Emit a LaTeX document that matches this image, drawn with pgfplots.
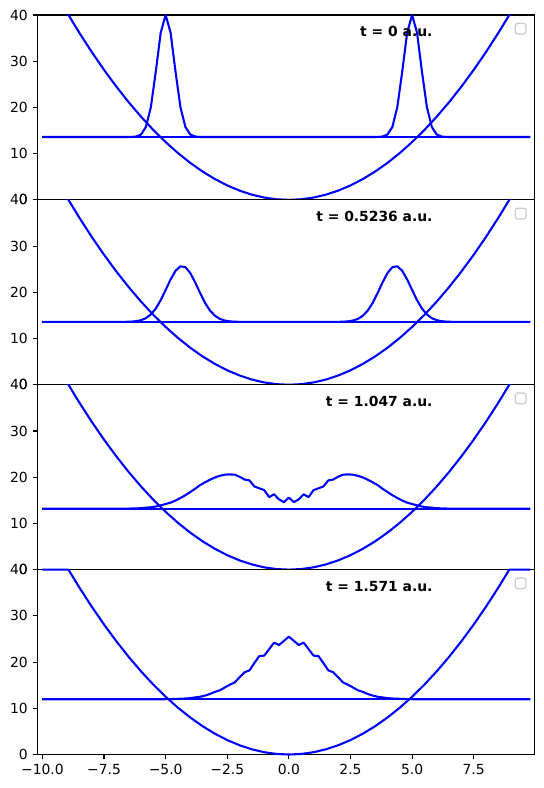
\documentclass[border=0pt]{standalone}
\usepackage{fontspec}
\setmainfont{DejaVu Sans}
\usepackage{pgfplots}
\usepackage{pgfplotstable}
\pgfplotsset{compat=1.18}

\pgfplotstableread{
x y
-10 50
-9.5 45.125
-9 40.5
-8.5 36.125
-8 32
-7.5 28.125
-7 24.5
-6.5 21.125
-6 18
-5.5 15.125
-5 12.5
-4.5 10.125
-4 8
-3.5 6.125
-3 4.5
-2.5 3.125
-2 2
-1.5 1.125
-1 0.5
-0.5 0.125
0 0
0.5 0.125
1 0.5
1.5 1.125
2 2
2.5 3.125
3 4.5
3.5 6.125
4 8
4.5 10.125
5 12.5
5.5 15.125
6 18
6.5 21.125
7 24.5
7.5 28.125
8 32
8.5 36.125
9 40.5
9.5 45.125
9.8 48.02
}\potential

\pgfplotstableread{
x y
-10 40
-8.944 40
-8.5 36.125
-8 32
-7.5 28.125
-7 24.5
-6.5 21.125
-6 18
-5.5 15.125
-5 12.5
-4.5 10.125
-4 8
-3.5 6.125
-3 4.5
-2.5 3.125
-2 2
-1.5 1.125
-1 0.5
-0.5 0.125
0 0
0.5 0.125
1 0.5
1.5 1.125
2 2
2.5 3.125
3 4.5
3.5 6.125
4 8
4.5 10.125
5 12.5
5.5 15.125
6 18
6.5 21.125
7 24.5
7.5 28.125
8 32
8.5 36.125
8.944 40
9.8 40
}\potentialcap

\pgfplotstableread{
x y
-10 13.6
-6.6 13.6
-6.4 13.61
-6.2 13.70
-6.0 14.13
-5.8 15.78
-5.6 20.08
-5.4 27.75
-5.2 36.19
-5.0 40.0
-4.8 36.19
-4.6 27.75
-4.4 20.08
-4.2 15.78
-4.0 14.13
-3.8 13.70
-3.6 13.61
-3.4 13.6
3.4 13.6
3.6 13.61
3.8 13.70
4.0 14.13
4.2 15.78
4.4 20.08
4.6 27.75
4.8 36.19
5.0 40.0
5.2 36.19
5.4 27.75
5.6 20.08
5.8 15.78
6.0 14.13
6.2 13.70
6.4 13.61
6.6 13.6
9.8 13.6
}\densA

\pgfplotstableread{
x y
-10 13.6
-7.0 13.6
-6.8 13.61
-6.6 13.62
-6.4 13.66
-6.2 13.75
-6.0 13.97
-5.8 14.41
-5.6 15.21
-5.4 16.49
-5.2 18.30
-5.0 20.51
-4.8 22.78
-4.6 24.65
-4.4 25.63
-4.2 25.45
-4.0 24.16
-3.8 22.12
-3.6 19.82
-3.4 17.70
-3.2 16.05
-3.0 14.93
-2.8 14.25
-2.6 13.89
-2.4 13.72
-2.2 13.64
-2.0 13.61
-1.8 13.6
1.8 13.6
2.0 13.61
2.2 13.64
2.4 13.72
2.6 13.89
2.8 14.25
3.0 14.93
3.2 16.05
3.4 17.70
3.6 19.82
3.8 22.12
4.0 24.16
4.2 25.45
4.4 25.63
4.6 24.65
4.8 22.78
5.0 20.51
5.2 18.30
5.4 16.49
5.6 15.21
5.8 14.41
6.0 13.97
6.2 13.75
6.4 13.66
6.6 13.62
6.8 13.61
7.0 13.6
9.8 13.6
}\densB

\pgfplotstableread{
x y
-10 13.2
-6.6 13.2
-6.4 13.22
-6.2 13.25
-6.0 13.3
-5.8 13.4
-5.6 13.5
-5.4 13.65
-5.2 13.9
-5.0 14.2
-4.8 14.5
-4.6 14.95
-4.4 15.5
-4.2 16.1
-4.0 16.8
-3.8 17.5
-3.6 18.3
-3.4 18.9
-3.2 19.45
-3.0 19.95
-2.8 20.3
-2.6 20.55
-2.4 20.6
-2.2 20.55
-2.0 20.1
-1.8 19.5
-1.6 19.3
-1.4 18.0
-1.2 17.6
-1.0 17.2
-0.8 15.7
-0.6 16.3
-0.4 15.2
-0.2 14.6
0 15.6
0.2 14.6
0.4 15.2
0.6 16.3
0.8 15.7
1.0 17.2
1.2 17.6
1.4 18.0
1.6 19.3
1.8 19.5
2.0 20.1
2.2 20.55
2.4 20.6
2.6 20.55
2.8 20.3
3.0 19.95
3.2 19.45
3.4 18.9
3.6 18.3
3.8 17.5
4.0 16.8
4.2 16.1
4.4 15.5
4.6 14.95
4.8 14.5
5.0 14.2
5.2 13.9
5.4 13.65
5.6 13.5
5.8 13.4
6.0 13.3
6.2 13.25
6.4 13.22
6.6 13.2
9.8 13.2
}\densC

\pgfplotstableread{
x y
-10 11.95
-5.2 11.95
-5.0 11.97
-4.8 12.0
-4.6 12.03
-4.4 12.07
-4.2 12.12
-4.0 12.2
-3.8 12.35
-3.6 12.5
-3.4 12.75
-3.2 13.1
-3.0 13.55
-2.8 13.9
-2.6 14.5
-2.4 15.1
-2.2 15.6
-2.0 16.7
-1.8 17.8
-1.6 18.2
-1.4 19.8
-1.2 21.3
-1.0 21.4
-0.8 22.8
-0.6 24.2
-0.4 23.7
-0.2 24.6
0 25.5
0.2 24.6
0.4 23.7
0.6 24.2
0.8 22.8
1.0 21.4
1.2 21.3
1.4 19.8
1.6 18.2
1.8 17.8
2.0 16.7
2.2 15.6
2.4 15.1
2.6 14.5
2.8 13.9
3.0 13.55
3.2 13.1
3.4 12.75
3.6 12.5
3.8 12.35
4.0 12.2
4.2 12.12
4.4 12.07
4.6 12.03
4.8 12.0
5.0 11.97
5.2 11.95
9.8 11.95
}\densD

\pgfplotsset{panel/.style={
  scale only axis, width=357.5pt, height=133.1pt,
  xmin=-10.2, xmax=9.95, ymin=0, ymax=40,
  anchor=south west,
  axis line style={line width=0.8pt},
  every tick/.style={line width=0.8pt, black},
  tick align=outside, major tick length=3.5pt,
  xtick pos=bottom, ytick pos=left,
  ytick={0,10,20,30,40}, yticklabels={0,10,20,30,40},
  xtick=\empty,
  ticklabel style={font=\fontsize{10}{12}\selectfont},
},
bl/.style={blue, line width=1.5pt, line join=round, mark=none}}
\newcommand{\emptylegend}{%
  \draw[black!20, line width=0.9pt, fill=white, rounded corners=1.8pt]
    (axis description cs:1,1) ++(-5.8pt,-6pt) rectangle ++(-7.7pt,-7.7pt);}
\newcommand{\ptitle}[1]{%
  \node[anchor=base east, inner sep=0pt, font=\bfseries\fontsize{10}{12}\selectfont]
    at (axis description cs:0.796,0.884) {#1};}

\begin{document}
\begin{tikzpicture}
\path[use as bounding box] (-27pt,-24.1pt) rectangle (364pt,543.2pt);

\begin{axis}[panel, at={(0,399.3pt)}]
\addplot[bl] table[x=x,y=y] {\potential};
\addplot[bl] coordinates {(-10,13.6) (9.8,13.6)};
\addplot[bl] table[x=x,y=y] {\densA};
\ptitle{t = 0 a.u.}
\emptylegend
\end{axis}

\begin{axis}[panel, at={(0,266.2pt)}]
\addplot[bl] table[x=x,y=y] {\potential};
\addplot[bl] coordinates {(-10,13.6) (9.8,13.6)};
\addplot[bl] table[x=x,y=y] {\densB};
\ptitle{t = 0.5236 a.u.}
\emptylegend
\end{axis}

\begin{axis}[panel, at={(0,133.1pt)}]
\addplot[bl] table[x=x,y=y] {\potential};
\addplot[bl] coordinates {(-10,13.2) (9.8,13.2)};
\addplot[bl] table[x=x,y=y] {\densC};
\ptitle{t = 1.047 a.u.}
\emptylegend
\end{axis}

\begin{axis}[panel, at={(0,0pt)}, clip=false,
  xtick={-10,-7.5,-5,-2.5,0,2.5,5,7.5},
  xticklabels={−10.0,−7.5,−5.0,−2.5,0.0,2.5,5.0,7.5}]
\addplot[bl] table[x=x,y=y] {\potentialcap};
\addplot[bl] coordinates {(-10,11.95) (9.8,11.95)};
\addplot[bl] table[x=x,y=y] {\densD};
\ptitle{t = 1.571 a.u.}
\emptylegend
\end{axis}
\end{tikzpicture}
\end{document}
